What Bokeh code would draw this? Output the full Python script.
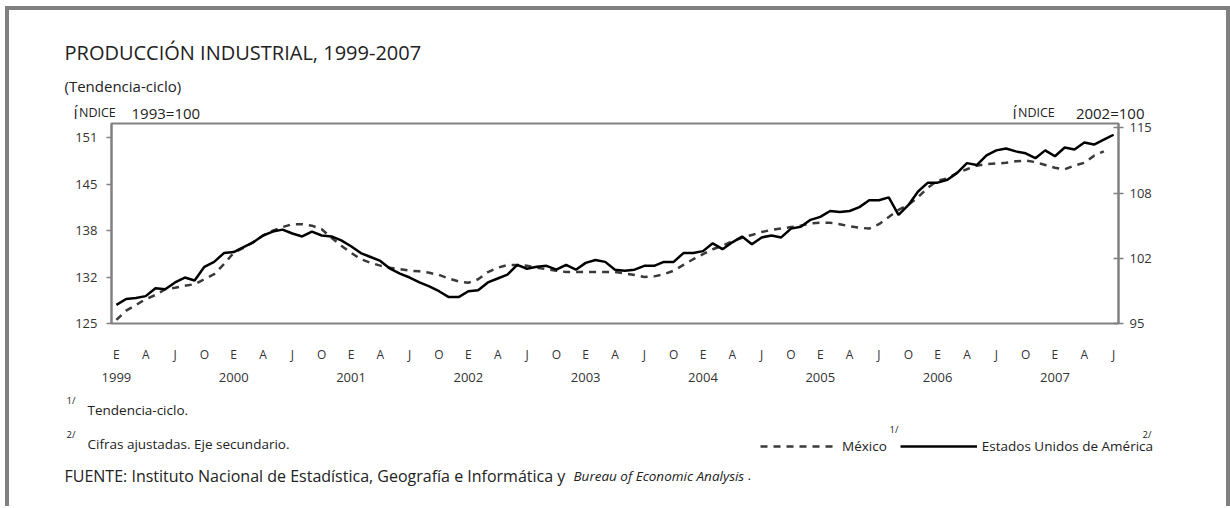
import numpy as np
from bokeh.plotting import figure
from bokeh.layouts import column
from bokeh.models import (Range1d, LinearAxis, FixedTicker, Label, Legend, LegendItem)
from bokeh.embed import file_html
from bokeh.resources import INLINE

# ---------------- data ----------------
# monthly, January 1999 .. July 2007 (month index 0..102)
months = list(range(103))

# México, Índice 1993=100 (tendencia-ciclo), Jan 1999 .. Jun 2007
mexico = [
    125.5, 126.8, 127.6, 128.4, 129.0, 129.8, 130.0, 130.3, 130.5, 131.2, 131.9, 133.3,  # 1999
    134.9, 135.6, 136.4, 137.3, 138.0, 138.5, 138.9, 138.9, 138.7, 138.2, 137.0, 135.9,  # 2000
    134.9, 134.0, 133.5, 133.1, 132.8, 132.6, 132.4, 132.3, 132.1, 131.8, 131.3, 130.9,  # 2001
    130.7, 131.2, 132.2, 132.8, 133.2, 133.2, 133.1, 132.8, 132.6, 132.4, 132.2, 132.2,  # 2002
    132.2, 132.2, 132.2, 132.2, 132.0, 131.8, 131.5, 131.6, 131.9, 132.4, 133.2, 134.0,  # 2003
    134.7, 135.4, 135.9, 136.5, 137.0, 137.4, 137.8, 138.1, 138.3, 138.5, 138.7, 139.0,  # 2004
    139.1, 139.1, 138.9, 138.6, 138.4, 138.3, 138.9, 139.9, 140.9, 141.6, 142.7, 144.0,  # 2005
    145.0, 145.3, 146.1, 146.6, 147.1, 147.3, 147.4, 147.5, 147.7, 147.8, 147.6, 147.2,  # 2006
    146.8, 146.6, 147.1, 147.5, 148.5, 149.1,                                            # 2007
]

# Estados Unidos de América, Índice 2002=100 (cifras ajustadas), Jan 1999 .. Jul 2007
usa = [
    96.9, 97.5, 97.6, 97.8, 98.6, 98.5, 99.2, 99.7, 99.4, 100.8, 101.3, 102.2,          # 1999
    102.3, 102.8, 103.3, 104.0, 104.4, 104.6, 104.2, 103.9, 104.4, 104.0, 103.9, 103.5,  # 2000
    102.9, 102.2, 101.8, 101.4, 100.6, 100.1, 99.7, 99.2, 98.8, 98.3, 97.7, 97.7,        # 2001
    98.3, 98.4, 99.2, 99.6, 100.0, 101.0, 100.6, 100.8, 100.9, 100.5, 101.0, 100.5,      # 2002
    101.2, 101.5, 101.3, 100.5, 100.4, 100.5, 100.9, 100.9, 101.3, 101.3, 102.2, 102.2,  # 2003
    102.4, 103.2, 102.6, 103.3, 103.9, 103.1, 103.8, 104.0, 103.8, 104.7, 104.9, 105.6,  # 2004
    105.9, 106.5, 106.4, 106.5, 106.9, 107.6, 107.6, 107.9, 106.1, 107.1, 108.5, 109.4,  # 2005
    109.4, 109.7, 110.4, 111.4, 111.2, 112.2, 112.7, 112.9, 112.6, 112.4, 111.9, 112.7,  # 2006
    112.1, 113.0, 112.8, 113.5, 113.3, 113.8, 114.3,                                    # 2007
]

quarter_ticks = list(range(0, 103, 3))
quarter_labels = (["E", "A", "J", "O"] * 9)[:len(quarter_ticks)]
year_ticks = list(range(0, 97, 12))
year_labels = ["1999", "2000", "2001", "2002", "2003", "2004", "2005", "2006", "2007"]

left_ticks = [125, 131.5, 138, 144.5, 151]
left_labels = ["125", "132", "138", "145", "151"]
right_ticks = [95, 95 + 20 / 3, 95 + 40 / 3, 115]
right_labels = ["95", "102", "108", "115"]

# ---------------- styling constants ----------------
FONT = "Open Sans"
GRAY = "#808080"
TXT = "#222222"
MX_COLOR, MX_DASH = "#3a3a3a", "7 6"
US_COLOR = "black"
W = 1217            # inner width of the framed box
OX, OY = 9, 10      # page position of the inner box
T_H, M_H, B_H = 116, 274, 114
OVERLAP = 8         # the chart figure slides under the bottom of the top text strip
M_TOP = OY + T_H - OVERLAP
B_TOP = M_TOP + M_H


def text_fig(h):
    f = figure(width=W, height=h, output_backend="svg", toolbar_location=None,
               x_range=Range1d(0, W), y_range=Range1d(h, 0),
               x_axis_location=None, y_axis_location=None, min_border=0)
    f.frame_align = False
    f.outline_line_color = None
    f.grid.visible = False
    f.background_fill_color = "white"
    f.border_fill_color = "white"
    return f


def lab(f, top, text, px, py, size, baseline="middle", style="normal", align="left", color=TXT):
    f.add_layout(Label(x=px - OX, y=py - top, text=text,
                       text_font=FONT, text_font_size=size, text_font_style=style,
                       text_align=align, text_baseline=baseline, text_color=color))


# ---------------- top texts ----------------
T = text_fig(T_H)
lab(T, OY, "PRODUCCIÓN INDUSTRIAL, 1999-2007", 64, 52, "20px")
lab(T, OY, "(Tendencia-ciclo)", 64, 85, "15px")
lab(T, OY, "Í", 73, 112, "15px", baseline="alphabetic")
lab(T, OY, "NDICE", 78.5, 112, "12.5px", baseline="alphabetic")
lab(T, OY, "1993=100", 131, 112, "15px", baseline="alphabetic")
lab(T, OY, "Í", 1012, 112, "15px", baseline="alphabetic")
lab(T, OY, "NDICE", 1017.5, 112, "12.5px", baseline="alphabetic")
lab(T, OY, "2002=100", 1144, 112, "15px", baseline="alphabetic", align="right")

# ---------------- chart ----------------
p = figure(width=W, height=M_H, output_backend="svg", toolbar_location=None,
           x_range=Range1d(-0.5, 102.5), y_range=Range1d(125, 153),
           min_border_left=102, min_border_right=108, min_border_top=5, min_border_bottom=69)
p.frame_align = False
p.styles = {"margin-top": f"-{OVERLAP}px"}
p.extra_y_ranges = {"us": Range1d(95, 95 + 200 / 9.78)}
p.xgrid.visible = False
p.ygrid.visible = False
p.background_fill_color = "white"
p.border_fill_alpha = 0
p.outline_line_color = GRAY
p.outline_line_width = 2

mx = p.line(months[:len(mexico)], mexico, line_color=MX_COLOR, line_width=2.5, line_dash=MX_DASH)
us = p.line(months, usa, y_range_name="us", line_color=US_COLOR, line_width=2.5)

ya = p.yaxis[0]
ya.ticker = FixedTicker(ticks=left_ticks, minor_ticks=[])
ya.major_label_overrides = dict(zip(left_ticks, left_labels))
ya.axis_line_color = GRAY
ya.axis_line_width = 2
ya.major_tick_line_color = GRAY
ya.major_tick_line_width = 1.5
ya.major_tick_out = 5
ya.major_tick_in = 0
ya.minor_tick_line_color = None
ya.major_label_standoff = 9
ya.major_label_text_font = FONT
ya.major_label_text_font_size = "13px"
ya.major_label_text_color = "#333333"

ra = LinearAxis(y_range_name="us", ticker=FixedTicker(ticks=right_ticks, minor_ticks=[]))
ra.major_label_overrides = dict(zip(right_ticks, right_labels))
ra.axis_line_color = GRAY
ra.axis_line_width = 2
ra.major_tick_line_color = GRAY
ra.major_tick_line_width = 1.5
ra.major_tick_out = 5
ra.major_tick_in = 5
ra.minor_tick_line_color = None
ra.major_label_standoff = 6
ra.major_label_text_font = FONT
ra.major_label_text_font_size = "13px"
ra.major_label_text_color = "#333333"
p.add_layout(ra, "right")

xa = p.xaxis[0]
xa.ticker = FixedTicker(ticks=quarter_ticks, minor_ticks=[])
xa.major_label_overrides = dict(zip(quarter_ticks, quarter_labels))
xa.axis_line_color = None
xa.major_tick_line_color = None
xa.minor_tick_line_color = None
xa.major_label_standoff = 16
xa.major_label_text_font = FONT
xa.major_label_text_font_size = "12px"
xa.major_label_text_color = "#333333"

xa2 = LinearAxis(ticker=FixedTicker(ticks=year_ticks, minor_ticks=[]))
xa2.major_label_overrides = dict(zip(year_ticks, year_labels))
xa2.axis_line_color = None
xa2.major_tick_line_color = None
xa2.minor_tick_line_color = None
xa2.major_label_standoff = 1
xa2.major_label_text_font = FONT
xa2.major_label_text_font_size = "13px"
xa2.major_label_text_color = "#333333"
p.add_layout(xa2, "below")

# ---------------- bottom texts + legend ----------------
B = text_fig(B_H)
# legend keys (styled like the chart's lines; no visible data of their own)
mx_key = B.line(np.array([np.nan]), np.array([np.nan]), line_color=MX_COLOR, line_width=2.5, line_dash=MX_DASH)
us_key = B.line(np.array([np.nan]), np.array([np.nan]), line_color=US_COLOR, line_width=2.5)
legend = Legend(items=[LegendItem(label="México", renderers=[mx_key]),
                       LegendItem(label="Estados Unidos de América", renderers=[us_key])],
                location=(760 - OX, B_H - (456 - B_TOP)), orientation="horizontal",
                glyph_width=77, glyph_height=20, label_standoff=5, spacing=13,
                padding=0, margin=0, border_line_color=None, background_fill_alpha=0,
                label_text_font=FONT, label_text_font_size="13.5px", label_text_color=TXT)
B.add_layout(legend)

lab(B, B_TOP, "1/", 66, 400, "9.5px")
lab(B, B_TOP, "Tendencia-ciclo.", 87, 409, "13.5px")
lab(B, B_TOP, "2/", 66, 434, "9.5px")
lab(B, B_TOP, "Cifras ajustadas. Eje secundario.", 87, 443, "13.5px")
lab(B, B_TOP, "FUENTE: Instituto Nacional de Estadística, Geografía e Informática y", 64, 475, "16px")
lab(B, B_TOP, "Bureau of Economic Analysis", 573, 475, "13.5px", style="italic")
lab(B, B_TOP, ".", 747, 475, "13.5px")
lab(B, B_TOP, "1/", 889, 429, "9.5px")
lab(B, B_TOP, "2/", 1142, 434, "9.5px")

layout = column(T, p, B, spacing=0, width=W + 8,
                styles={"margin-left": "5px", "margin-top": "6px",
                        "border-left": "4px solid #808080", "border-top": "4px solid #808080",
                        "border-right": "4px solid #808080"})

open("out.html", "w").write(file_html(layout, INLINE))
